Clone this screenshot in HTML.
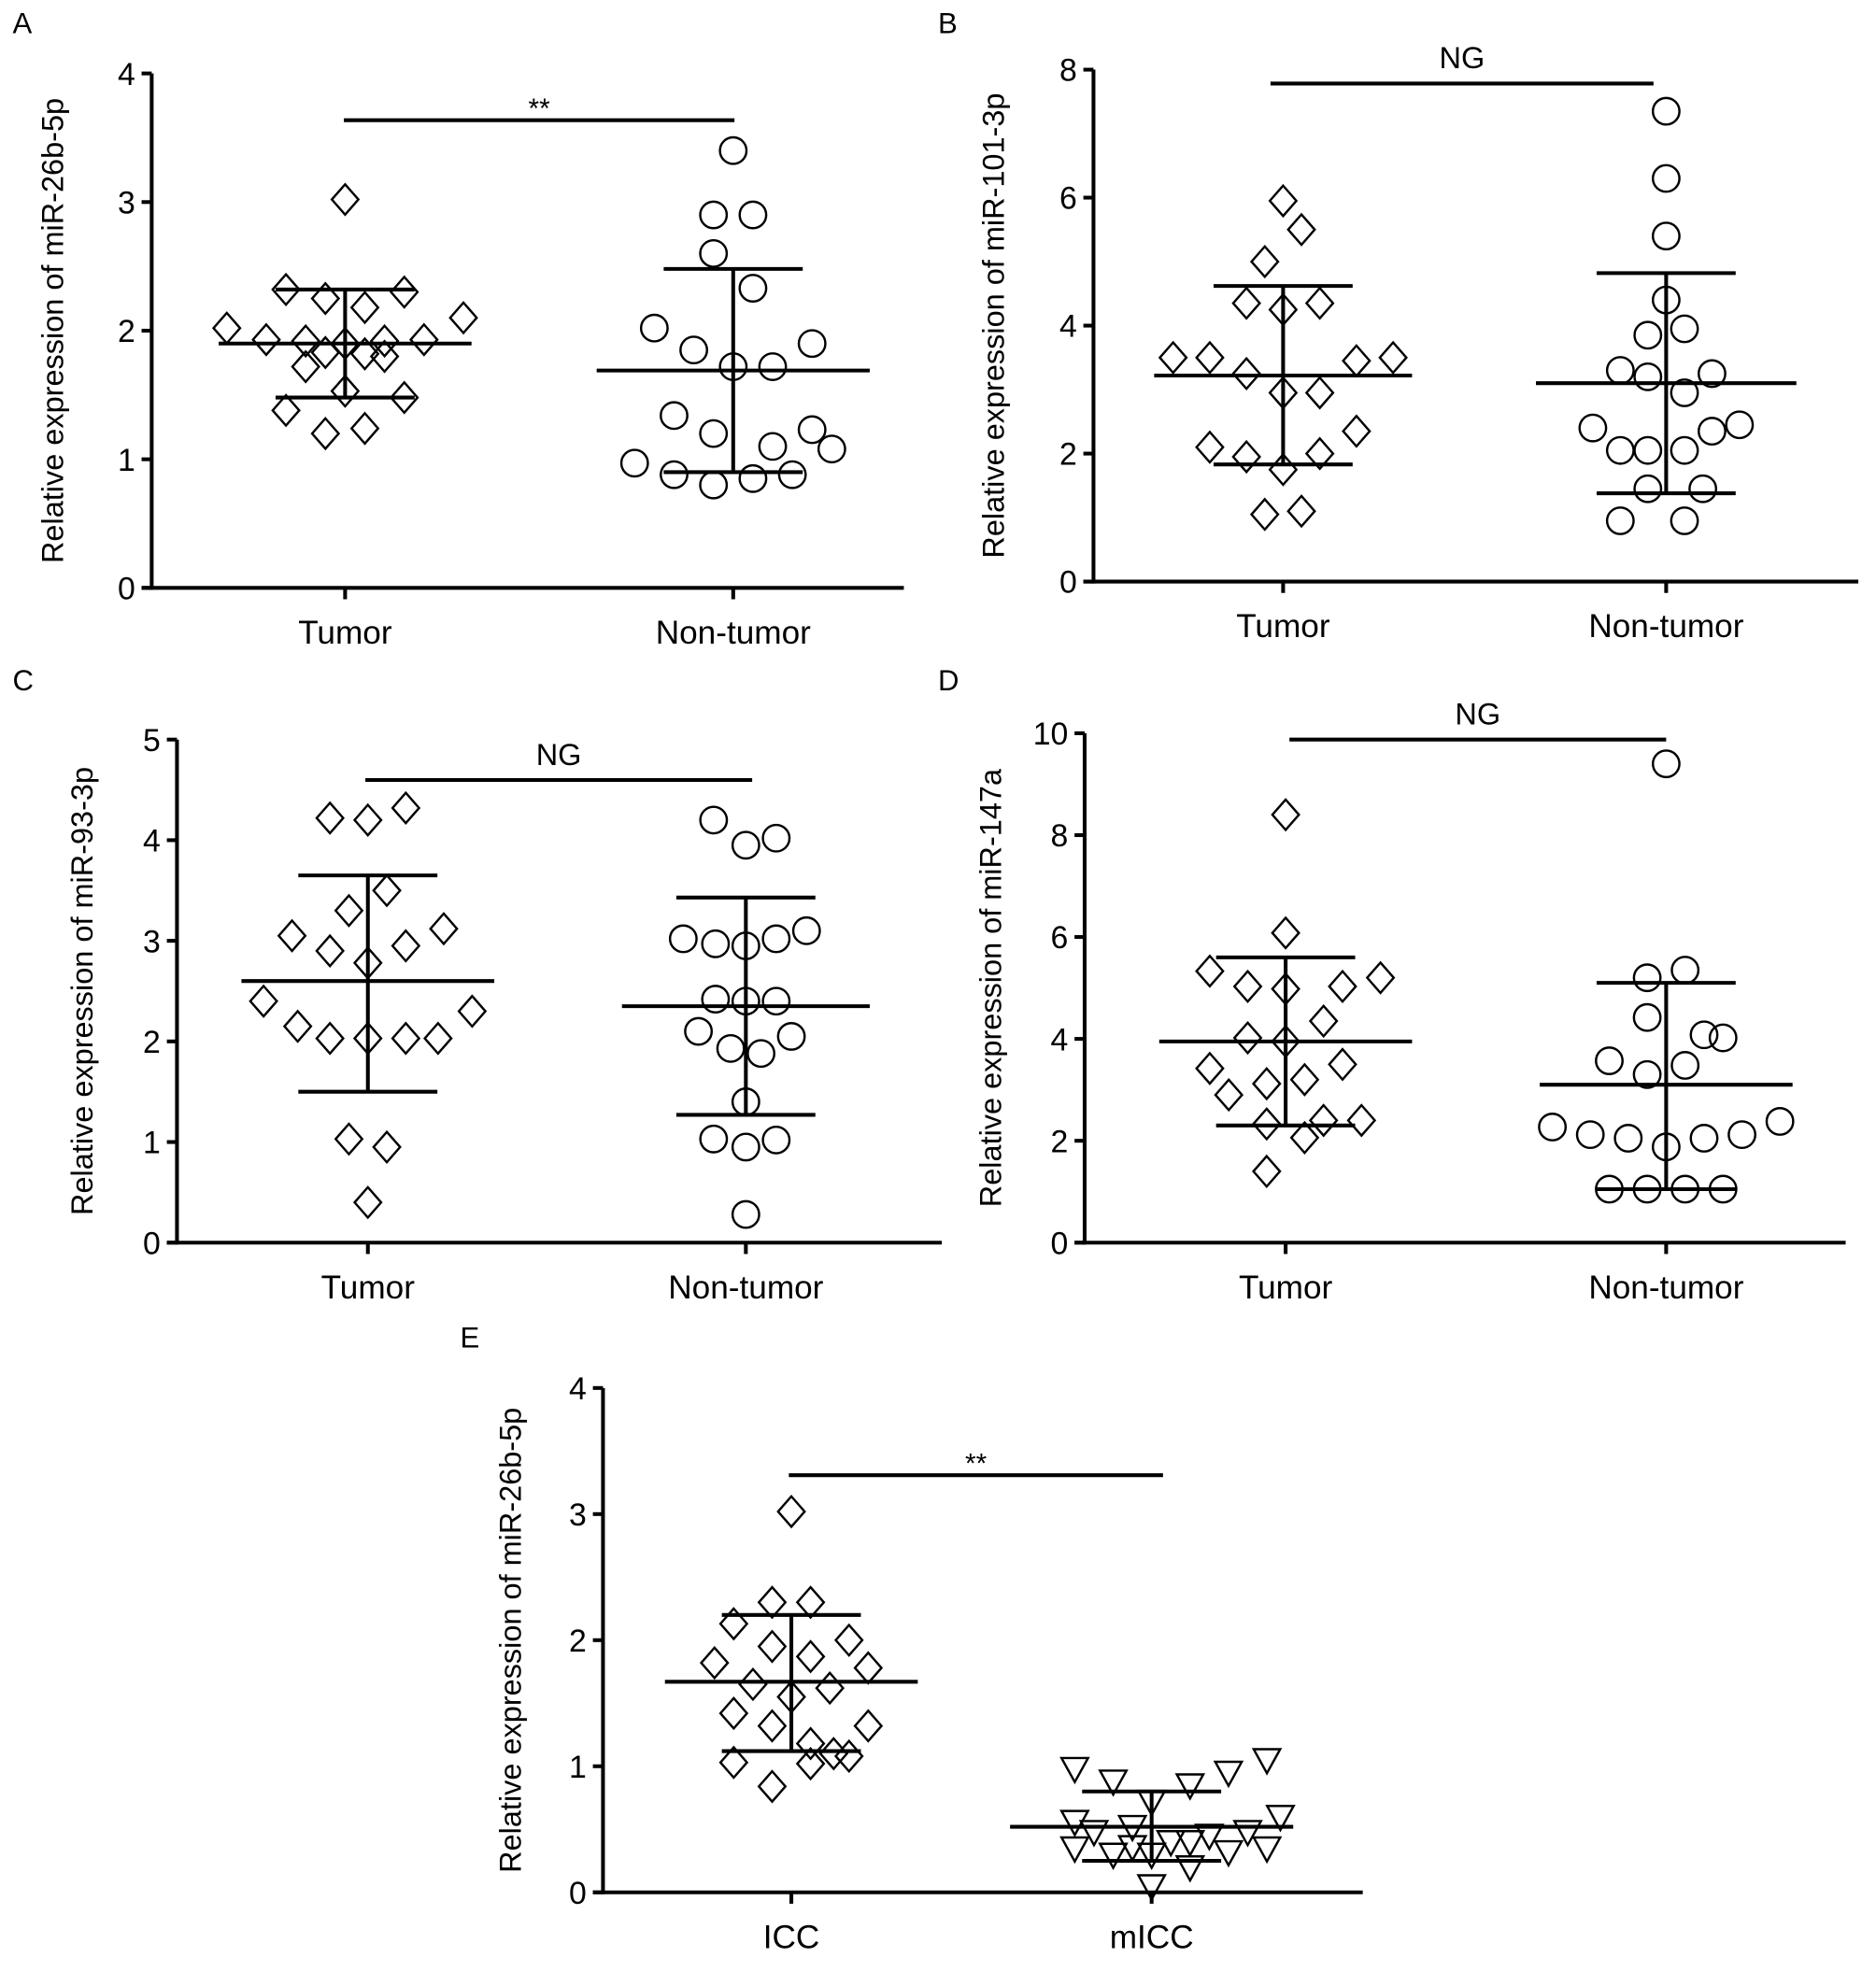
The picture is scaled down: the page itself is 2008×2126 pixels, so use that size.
<!DOCTYPE html>
<html><head><meta charset="utf-8"><style>
html,body{margin:0;padding:0;background:#fff;}
svg{display:block;font-family:"Liberation Sans",Arial,sans-serif;}
</style></head><body>
<svg id="fig" width="2008" height="2126" viewBox="0 0 1484 1571" xmlns="http://www.w3.org/2000/svg"></svg>
<script>
// ---- data; slots = horizontal jitter index ----
const catsA=["Tumor","Non-tumor"], catsE=["ICC","mICC"];
const aTumor=[3.02,2.32,2.25,2.3,2.18,2.1,2.02,1.93,1.92,1.92,1.93,1.9,1.83,1.82,1.8,1.72,1.53,1.48,1.38,1.2,1.24];
const aTumorSlot=[0,-3,-1,3,1,6,-6,-4,-2,2,4,0,-1,1,2,-2,0,3,-3,-1,1];
const aNon=[3.4,2.9,2.9,2.6,2.33,2.02,1.85,1.9,1.72,1.72,1.34,1.2,1.23,1.1,1.08,0.97,0.88,0.8,0.85,0.88];
const aNonSlot=[0,-1,1,-1,1,-4,-2,4,0,2,-3,-1,4,2,5,-5,-3,-1,1,3];
const aStats=[[1.9,2.32,1.48],[1.69,2.48,0.9]];
const bTumor=[5.95,5.5,5.0,4.35,4.25,4.35,3.5,3.5,3.45,3.5,3.25,2.95,2.95,2.35,2.1,1.95,2.0,1.75,1.05,1.1];
const bTumorSlot=[0,1,-1,-2,0,2,-4,-6,4,6,-2,0,2,4,-4,-2,2,0,-1,1];
const bNon=[7.35,6.3,5.4,4.4,3.95,3.85,3.3,3.2,3.25,2.95,2.4,2.45,2.35,2.05,2.05,2.05,1.45,1.45,0.95,0.95];
const bNonSlot=[0,0,0,0,1,-1,-2.5,-1,2.5,1,-4,4,2.5,-2.5,-1,1,-1,2,-2.5,1];
const bStats=[[3.22,4.62,1.83],[3.1,4.82,1.38]];
const cTumor=[4.22,4.2,4.32,3.5,3.3,3.05,3.12,2.9,2.95,2.78,2.4,2.3,2.15,2.03,2.03,2.03,2.03,1.03,0.95,0.4];
const cTumorSlot=[-2,0,2,1,-1,-4,4,-2,2,0,-5.5,5.5,-3.7,-2,0,2,3.7,-1,1,0];
const cNon=[4.2,3.95,4.02,3.02,2.97,2.95,3.02,3.1,2.42,2.4,2.4,2.1,1.93,1.88,2.05,1.4,1.03,0.95,1.02,0.28];
const cNonSlot=[-1.7,0,1.6,-3.3,-1.6,0,1.6,3.2,-1.6,0,1.6,-2.5,-0.8,0.8,2.4,0,-1.7,0,1.6,0];
const cStats=[[2.6,3.65,1.5],[2.35,3.43,1.27]];
const dTumor=[8.4,6.08,5.33,5.03,4.98,5.03,5.2,4.35,4.02,3.95,3.42,3.5,3.12,3.2,2.9,2.33,2.4,2.4,2.06,1.4];
const dTumorSlot=[0,0,-4,-2,0,3,5,2,-2,0,-4,3,-1,1,-3,-1,2,4,1,-1];
const dNon=[9.4,5.35,5.2,4.42,4.08,4.02,3.57,3.3,3.48,2.38,2.27,2.12,2.12,2.05,2.05,1.88,1.05,1.05,1.05,1.05];
const dNonSlot=[0,1,-1,-1,2,3,-3,-1,1,6,-6,-4,4,-2,2,0,-3,-1,1,3];
const dStats=[[3.95,5.6,2.3],[3.1,5.1,1.05]];
const eIcc=[3.02,2.3,2.3,2.13,1.95,2.0,1.82,1.87,1.78,1.65,1.62,1.55,1.42,1.32,1.32,1.18,1.1,1.03,1.02,1.08,0.84];
const eIccSlot=[0,-1,1,-3,-1,3,-4,1,4,-2,2,0,-3,-1,4,1,2.2,-3,1,3,-1];
const eMicc=[0.98,0.88,0.85,0.95,1.05,0.72,0.56,0.48,0.6,0.48,0.36,0.4,0.4,0.35,0.3,0.3,0.2,0.32,0.35,0.05,0.52,0.45];
const eMiccSlot=[-4,-2,2,4,6,0,-4,-3,6.7,5,-1,1,2,-4,-2,0,2,4,6,0,-1,3];
const eStats=[[1.67,2.2,1.12],[0.52,0.8,0.25]];

const NS="http://www.w3.org/2000/svg";
const svg=document.getElementById('fig');
function mk(tag,attrs,parent,text){const e=document.createElementNS(NS,tag);for(const k in attrs)e.setAttribute(k,attrs[k]);if(text!==undefined)e.textContent=text;(parent||svg).appendChild(e);return e;}

function panel(cfg){
  const g=mk('g',{});
  
  
  const y=v=>cfg.y0-(v/cfg.ymax)*(cfg.y0-cfg.ytop);
  const lt=mk('text',{x:cfg.lx,y:cfg.ly,'font-size':23},g,cfg.letter);
  
  
  const ya=mk('line',{x1:cfg.ax,y1:cfg.ytop,x2:cfg.ax,y2:cfg.y0+1.5,stroke:'#000','stroke-width':3},g);
  
  
  const xa=mk('line',{x1:cfg.ax-8,y1:cfg.y0,x2:cfg.xend,y2:cfg.y0,stroke:'#000','stroke-width':3},g);
  
  
  cfg.ticks.forEach(t=>{
    const yy=y(t);
    const tk=mk('line',{x1:cfg.ax-8,y1:yy,x2:cfg.ax,y2:yy,stroke:'#000','stroke-width':3},g);
    
    
    const tl=mk('text',{x:cfg.ax-13,y:yy+9,'font-size':25,'text-anchor':'end'},g,String(t));
    
    
  });
  const mid=(cfg.y0+cfg.ytop)/2;
  const at=mk('text',{x:cfg.tx,y:mid,'font-size':24,'text-anchor':'middle',transform:`rotate(-90 ${cfg.tx} ${mid})`},g,cfg.title);
  
  
  cfg.cats.forEach((c,i)=>{
    const cx=cfg.cx[i];
    const tk=mk('line',{x1:cx,y1:cfg.y0,x2:cx,y2:cfg.y0+9,stroke:'#000','stroke-width':3},g);
    
    
    const cl=mk('text',{x:cx,y:cfg.y0+44,'font-size':26,'text-anchor':'middle'},g,c);
    
    
  });
  cfg.series.forEach((s,i)=>{
    const cx=cfg.cx[i];
    s.vals.forEach((v,j)=>{
      const px=cx+s.slots[j]*cfg.slot, py=y(v);
      let m;
      if(s.shape==='diamond'){
        m=mk('polygon',{points:`${px},${py-12} ${px+10.5},${py} ${px},${py+12} ${px-10.5},${py}`,fill:'none',stroke:'#000','stroke-width':1.8},g);
      }else if(s.shape==='circle'){
        m=mk('circle',{cx:px,cy:py,r:10.5,fill:'none',stroke:'#000','stroke-width':1.8},g);
      }else{
        m=mk('polygon',{points:`${px-10.5},${py-8.5} ${px+10.5},${py-8.5} ${px},${py+10.5}`,fill:'none',stroke:'#000','stroke-width':1.8},g);
      }
      
      
    });
    const st=cfg.stats[i];
    const mw=cfg.meanW[i];
    const ml=mk('line',{x1:cx-mw,y1:y(st[0]),x2:cx+mw,y2:y(st[0]),stroke:'#000','stroke-width':3},g);
    
    
    const el=mk('line',{x1:cx,y1:y(st[1]),x2:cx,y2:y(st[2]),stroke:'#000','stroke-width':3},g);
    
    
    [st[1],st[2]].forEach(v=>{
      const cp=mk('line',{x1:cx-55,y1:y(v),x2:cx+55,y2:y(v),stroke:'#000','stroke-width':3},g);
      
      
    });
  });
  const sb=mk('line',{x1:cfg.sig[0],y1:cfg.sig[2],x2:cfg.sig[1],y2:cfg.sig[2],stroke:'#000','stroke-width':3},g);
  
  
  const sl=mk('text',{x:(cfg.sig[0]+cfg.sig[1])/2,y:cfg.sig[2]+(cfg.sigText==='**'?-2:-12),'font-size':cfg.sigText==='**'?22:24,'text-anchor':'middle'},g,cfg.sigText);
  
  
}

panel({letter:'A',lx:10,ly:26,ax:120,ytop:58,y0:465,ymax:4,ticks:[0,1,2,3,4],xend:715,tx:50,title:'Relative expression of miR-26b-5p',
  cats:catsA,cx:[273,580],slot:15.6,meanW:[100,108],stats:aStats,sig:[272,581,95],sigText:'**',
  series:[{vals:aTumor,slots:aTumorSlot,shape:'diamond'},{vals:aNon,slots:aNonSlot,shape:'circle'}]});
panel({letter:'B',lx:742,ly:26,ax:865,ytop:55,y0:460,ymax:8,ticks:[0,2,4,6,8],xend:1470,tx:794,title:'Relative expression of miR-101-3p',
  cats:catsA,cx:[1015,1318],slot:14.5,meanW:[102,103],stats:bStats,sig:[1005,1308,66],sigText:'NG',
  series:[{vals:bTumor,slots:bTumorSlot,shape:'diamond'},{vals:bNon,slots:bNonSlot,shape:'circle'}]});
panel({letter:'C',lx:10,ly:546,ax:140,ytop:585,y0:983,ymax:5,ticks:[0,1,2,3,4,5],xend:745,tx:73,title:'Relative expression of miR-93-3p',
  cats:catsA,cx:[291,590],slot:15,meanW:[100,98],stats:cStats,sig:[289,595,617],sigText:'NG',
  series:[{vals:cTumor,slots:cTumorSlot,shape:'diamond'},{vals:cNon,slots:cNonSlot,shape:'circle'}]});
panel({letter:'D',lx:742,ly:546,ax:858,ytop:580,y0:983,ymax:10,ticks:[0,2,4,6,8,10],xend:1460,tx:792,title:'Relative expression of miR-147a',
  cats:catsA,cx:[1017,1318],slot:15,meanW:[100,100],stats:dStats,sig:[1020,1318,585],sigText:'NG',
  series:[{vals:dTumor,slots:dTumorSlot,shape:'diamond'},{vals:dNon,slots:dNonSlot,shape:'circle'}]});
panel({letter:'E',lx:364,ly:1066,ax:477,ytop:1098,y0:1497,ymax:4,ticks:[0,1,2,3,4],xend:1078,tx:412,title:'Relative expression of miR-26b-5p',
  cats:catsE,cx:[626,911],slot:15.2,meanW:[100,112],stats:eStats,sig:[624,920,1167],sigText:'**',
  series:[{vals:eIcc,slots:eIccSlot,shape:'diamond'},{vals:eMicc,slots:eMiccSlot,shape:'triangle'}]});
</script>
</body></html>
